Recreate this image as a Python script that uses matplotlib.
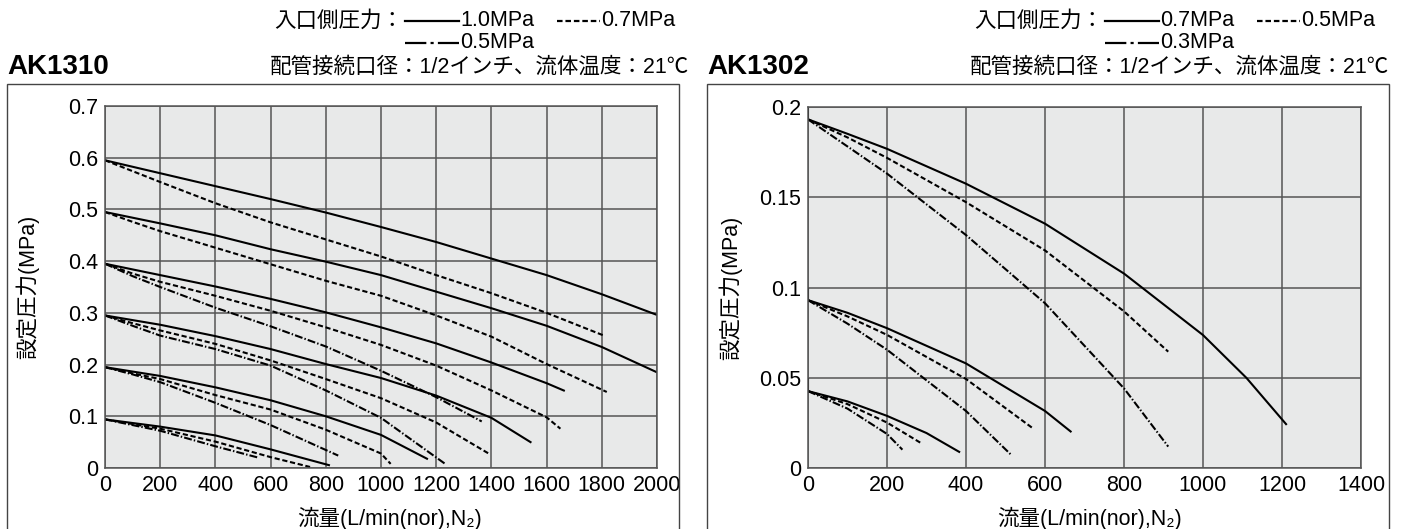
import matplotlib.pyplot as plt
from matplotlib.lines import Line2D
from matplotlib.patches import Rectangle

plt.rcParams['font.family'] = ['Liberation Sans', 'Noto Sans CJK JP', 'DejaVu Sans']

# AK1310: [flow L/min], [set pressure MPa]; name = model_inlet_set
ak1310_10_06 = [[0, 200, 400, 600, 800, 1000, 1200, 1400, 1600, 1800, 2000],
                [0.595, 0.570, 0.545, 0.520, 0.494, 0.466, 0.437, 0.405, 0.373, 0.336, 0.296]]
ak1310_07_06 = [[0, 100, 200, 400, 600, 800, 1000, 1200, 1400, 1600, 1808],
                [0.595, 0.574, 0.553, 0.512, 0.475, 0.442, 0.409, 0.373, 0.338, 0.300, 0.256]]
ak1310_10_05 = [[0, 200, 400, 600, 800, 1000, 1200, 1400, 1600, 1800, 2000],
                [0.495, 0.473, 0.450, 0.423, 0.399, 0.373, 0.341, 0.309, 0.275, 0.234, 0.185]]
ak1310_07_05 = [[0, 100, 200, 400, 600, 800, 1000, 1200, 1400, 1600, 1818],
                [0.495, 0.476, 0.458, 0.426, 0.394, 0.362, 0.333, 0.295, 0.254, 0.201, 0.147]]
ak1310_10_04 = [[0, 200, 400, 600, 800, 1000, 1200, 1400, 1600, 1666],
                [0.395, 0.373, 0.351, 0.327, 0.301, 0.272, 0.241, 0.204, 0.164, 0.149]]
ak1310_07_04 = [[0, 100, 200, 400, 600, 800, 1000, 1200, 1400, 1600, 1650],
                [0.395, 0.376, 0.360, 0.333, 0.304, 0.272, 0.238, 0.198, 0.150, 0.098, 0.076]]
ak1310_05_04 = [[0, 100, 200, 400, 600, 800, 1000, 1200, 1365],
                [0.395, 0.371, 0.350, 0.310, 0.274, 0.235, 0.188, 0.137, 0.090]]
ak1310_10_03 = [[0, 200, 400, 600, 800, 1000, 1200, 1400, 1545],
                [0.295, 0.277, 0.255, 0.230, 0.201, 0.174, 0.140, 0.097, 0.049]]
ak1310_07_03 = [[0, 100, 200, 400, 600, 800, 1000, 1200, 1390],
                [0.295, 0.280, 0.266, 0.240, 0.208, 0.172, 0.135, 0.088, 0.028]]
ak1310_05_03 = [[0, 100, 200, 400, 600, 800, 1000, 1235],
                [0.295, 0.275, 0.256, 0.230, 0.198, 0.150, 0.097, 0.007]]
ak1310_10_02 = [[0, 200, 400, 600, 800, 1000, 1170],
                [0.195, 0.178, 0.156, 0.131, 0.100, 0.064, 0.017]]
ak1310_07_02 = [[0, 100, 200, 400, 600, 800, 1000, 1035],
                [0.195, 0.183, 0.172, 0.141, 0.113, 0.074, 0.028, 0.008]]
ak1310_05_02 = [[0, 100, 200, 400, 600, 845],
                [0.195, 0.181, 0.166, 0.126, 0.083, 0.024]]
ak1310_10_01 = [[0, 200, 400, 600, 815],
                [0.094, 0.080, 0.063, 0.036, 0.005]]
ak1310_07_01 = [[0, 200, 400, 600, 743],
                [0.094, 0.076, 0.051, 0.021, 0.002]]
ak1310_05_01 = [[0, 200, 400, 556],
                [0.094, 0.072, 0.042, 0.020]]

# AK1302
ak1302_07_02 = [[0, 0, 100, 200, 400, 600, 800, 1000, 1110, 1212],
                [0.200, 0.193, 0.185, 0.1767, 0.1574, 0.1353, 0.1077, 0.0737, 0.050, 0.024]]
ak1302_05_02 = [[0, 100, 200, 400, 600, 800, 912],
                [0.193, 0.183, 0.1717, 0.1472, 0.1205, 0.0868, 0.0645]]
ak1302_03_02 = [[0, 100, 200, 400, 600, 800, 912],
                [0.193, 0.178, 0.163, 0.129, 0.0913, 0.0442, 0.012]]
ak1302_07_01 = [[0, 0, 100, 200, 400, 600, 667],
                [0.100, 0.093, 0.086, 0.0775, 0.058, 0.0317, 0.020]]
ak1302_05_01 = [[0, 100, 200, 400, 570],
                [0.093, 0.084, 0.0738, 0.0494, 0.022]]
ak1302_03_01 = [[0, 100, 200, 400, 515],
                [0.093, 0.080, 0.0656, 0.0317, 0.0073]]
ak1302_07_005 = [[0, 0, 100, 200, 300, 385],
                 [0.050, 0.0427, 0.037, 0.029, 0.0195, 0.0088]]
ak1302_05_005 = [[0, 100, 200, 288],
                 [0.0427, 0.0355, 0.0253, 0.0137]]
ak1302_03_005 = [[0, 100, 200, 239],
                 [0.0427, 0.033, 0.019, 0.0103]]

ak1310_xticks = [0, 200, 400, 600, 800, 1000, 1200, 1400, 1600, 1800, 2000]
ak1310_yticks = [0, 0.1, 0.2, 0.3, 0.4, 0.5, 0.6, 0.7]
ak1310_ylabels = ['0', '0.1', '0.2', '0.3', '0.4', '0.5', '0.6', '0.7']
ak1302_xticks = [0, 200, 400, 600, 800, 1000, 1200, 1400]
ak1302_yticks = [0, 0.05, 0.1, 0.15, 0.2]
ak1302_ylabels = ['0', '0.05', '0.1', '0.15', '0.2']

ak1310_inlets = ['1.0MPa', '0.7MPa', '0.5MPa']
ak1302_inlets = ['0.7MPa', '0.5MPa', '0.3MPa']

SOLID = '-'
DASH = (0, (2.5, 1.3))
DASHDOT = (0, (3.8, 1.0, 0.7, 1.0))
FS = 15.5

W, H = 1405, 529


def fx(px):
    return px / W


def fy(py):
    return 1 - py / H


fig = plt.figure(figsize=(W / 100, H / 100), dpi=100)
ax1 = fig.add_axes([fx(105), fy(468), 552 / W, 362 / H])
ax2 = fig.add_axes([fx(808), fy(468.3), 553 / W, 361.6 / H])

left_curves = [(ak1310_10_06, SOLID), (ak1310_07_06, DASH),
               (ak1310_10_05, SOLID), (ak1310_07_05, DASH),
               (ak1310_10_04, SOLID), (ak1310_07_04, DASH), (ak1310_05_04, DASHDOT),
               (ak1310_10_03, SOLID), (ak1310_07_03, DASH), (ak1310_05_03, DASHDOT),
               (ak1310_10_02, SOLID), (ak1310_07_02, DASH), (ak1310_05_02, DASHDOT),
               (ak1310_10_01, SOLID), (ak1310_07_01, DASH), (ak1310_05_01, DASHDOT)]
right_curves = [(ak1302_07_02, SOLID), (ak1302_05_02, DASH), (ak1302_03_02, DASHDOT),
                (ak1302_07_01, SOLID), (ak1302_05_01, DASH), (ak1302_03_01, DASHDOT),
                (ak1302_07_005, SOLID), (ak1302_05_005, DASH), (ak1302_03_005, DASHDOT)]


def draw_chart(ax, curves, xticks, yticks, ylabels, xlab_x, ylab_x):
    ax.set_facecolor('#e8e9e9')
    for (xs, ys), ls in curves:
        ax.plot(xs, ys, color='black', lw=1.5, linestyle=ls,
                dash_capstyle='butt', solid_capstyle='butt', solid_joinstyle='round')
    ax.set_xlim(xticks[0], xticks[-1])
    ax.set_ylim(yticks[0], yticks[-1])
    ax.set_xticks(xticks)
    ax.set_yticks(yticks, ylabels)
    ax.grid(True, color='#555555', lw=1.1)
    ax.set_axisbelow(True)
    ax.tick_params(length=0, labelsize=FS, pad=5)
    for s in ax.spines.values():
        s.set_color('#555555')
        s.set_linewidth(1.1)
    ax.set_xlabel('流量(L/min(nor),N₂)', fontsize=FS, va='center')
    ax.xaxis.set_label_coords(xlab_x, -50 / 362)
    ax.set_ylabel('設定圧力(MPa)', fontsize=FS, va='center')
    ax.yaxis.set_label_coords(ylab_x, 0.5)


draw_chart(ax1, left_curves, ak1310_xticks, ak1310_yticks, ak1310_ylabels, 0.515, -0.14)
draw_chart(ax2, right_curves, ak1302_xticks, ak1302_yticks, ak1302_ylabels, 0.51, -0.141)


def header(off, box_right, title, inlets):
    fig.add_artist(Rectangle((fx(off + 7), fy(540)), (box_right - off - 7) / W, 456 / H,
                             transform=fig.transFigure, fill=False,
                             edgecolor='#444444', lw=1.0, clip_on=False))
    fig.text(fx(off + 7), fy(67.5), title, fontsize=20, fontweight='bold',
             ha='left', va='center')
    fig.text(fx(off + 689), fy(67.5), '配管接続口径：1/2インチ、流体温度：21℃',
             fontsize=FS, ha='right', va='center')
    fig.text(fx(off + 403), fy(21), '入口側圧力：', fontsize=FS, ha='right', va='center')
    keys = [(405, 459, 21, SOLID), (557, 600, 21, DASH), (405, 459, 42.5, (0, (9.6, 1.9, 1.4, 1.9)))]
    for (x0, x1, y, ls), lab in zip(keys, inlets):
        fig.add_artist(Line2D([fx(off + x0), fx(off + x1)], [fy(y), fy(y)],
                              transform=fig.transFigure, color='black', lw=1.6,
                              linestyle=ls, dash_capstyle='butt'))
        fig.text(fx(off + x1 + 1), fy(y), lab, fontsize=FS, ha='left', va='center')


header(0, 679, 'AK1310', ak1310_inlets)
header(700, 1389, 'AK1302', ak1302_inlets)

plt.savefig('out.png', dpi=100)
